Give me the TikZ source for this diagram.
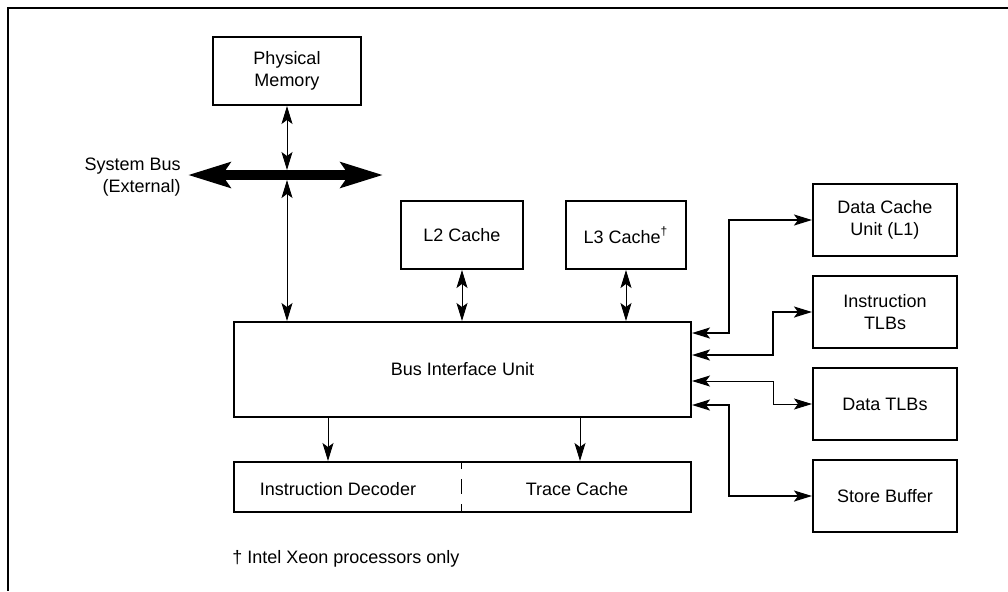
\documentclass[tikz,border=0pt]{standalone}
\usepackage{fontspec}
\setmainfont{Liberation Sans}
\usetikzlibrary{arrows.meta,positioning}

\begin{document}
\begin{tikzpicture}[x=0.5pt,y=-0.5pt,node distance=9pt,>={Stealth[length=9pt,width=5.5pt,inset=2pt]},
  font=\fontsize{9}{11}\selectfont,
  unit/.style={draw,line width=1pt,align=center,inner sep=0pt},
  side/.style={unit,minimum width=72pt,minimum height=36pt},
  link/.style={<->,line width=0.5pt},
  wide/.style={<->,line width=1pt},
  down/.style={->,line width=0.5pt}]
\useasboundingbox (0,0) rectangle (1008,591);
\draw[line width=1pt] (1008,8) -- (8,8) -- (8,591);
% memory and external bus
\node[unit,minimum width=74pt,minimum height=34pt] (mem) at (287,71) {Physical\\Memory};
\coordinate (busw) at (188,175);
\coordinate (buse) at (383,175);
\draw[line width=5pt,{Stealth[length=21pt,width=12.5pt,inset=4pt]}-{Stealth[length=21pt,width=12.5pt,inset=4pt]}] (busw) -- (buse);
\node[anchor=east,align=right,inner sep=0pt] (sysbus) at (181,177) {System Bus\\(External)};
% caches and bus unit
\node[unit,minimum width=61pt,minimum height=34pt] (l2) at (462,235) {L2 Cache};
\node[unit,minimum width=60pt,minimum height=34pt] (l3) at (626,235) {L3 Cache\textsuperscript{†}};
\node[unit,minimum width=228.5pt,minimum height=47.5pt] (biu) at (462.5,369.5) {Bus Interface Unit};
\draw[link,shorten >=2.5pt] (mem.south) -- (mem.south |- busw);
\draw[link,shorten <=2.5pt] (mem.south |- busw) -- (mem.south |- biu.north);
\draw[link] (l2.south) -- (l2.south |- biu.north);
\draw[link] (l3.south) -- (l3.south |- biu.north);
% front end
\node[unit,minimum width=228.5pt,minimum height=25pt] (front) at (462.5,487) {};
\node (dec) at (338,489) {Instruction Decoder};
\node (tc) at (577,489) {Trace Cache};
\draw[line width=0.5pt,dash pattern=on 4pt off 5pt on 7.5pt off 5pt on 4pt] ([xshift=-0.75pt]front.north) -- ([xshift=-0.75pt]front.south);
\draw[down] ([xshift=-67.25pt]biu.south) -- ([xshift=-67.25pt]front.north);
\draw[down] ([xshift=58.75pt]biu.south) -- ([xshift=58.75pt]front.north);
% units on the right
\node[side] (dcu) at (885,220) {Data Cache\\Unit (L1)};
\node[side,below=of dcu] (itlb) {Instruction\\TLBs};
\node[side,below=of itlb] (dtlb) {Data TLBs};
\node[side,below=of dtlb] (sb) {Store Buffer};
\coordinate (jnear) at (728.5,0);
\coordinate (jfar) at (773,0);
\draw[wide] (dcu.west) -- (dcu.west -| jnear) |- ([yshift=18.25pt]biu.east);
\draw[wide] (itlb.west) -- (itlb.west -| jfar) |- ([yshift=7.25pt]biu.east);
\draw[link] (dtlb.west) -- (dtlb.west -| jfar) |- ([yshift=-5.75pt]biu.east);
\draw[wide] (sb.west) -- (sb.west -| jnear) |- ([yshift=-17.75pt]biu.east);
\node[anchor=base west,inner sep=0pt] (note) at (232,563) {† Intel Xeon processors only};
\end{tikzpicture}
\end{document}
